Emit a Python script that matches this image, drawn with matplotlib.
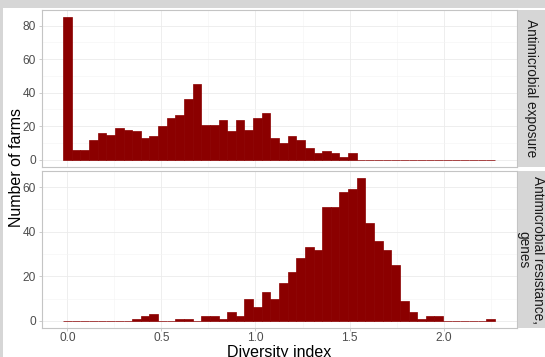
import numpy as np
import matplotlib
matplotlib.use('Agg')
import matplotlib.pyplot as plt
from matplotlib.patches import Rectangle

plt.rcParams['font.family'] = ['Liberation Sans', 'DejaVu Sans']

# histogram data (50 bins over the diversity index range)
x_min = 0.0
x_max = 2.25
n_bins = 50

exposure_counts = [85, 6, 6, 12, 16, 15, 19, 18, 17, 13,
                   14, 20, 25, 27, 36, 45, 21, 21, 24, 17,
                   24, 18, 25, 28, 13, 10, 14, 12, 7, 4,
                   5, 4, 2, 4, 0, 0, 0, 0, 0, 0,
                   0, 0, 0, 0, 0, 0, 0, 0, 0, 0]
genes_counts = [0, 0, 0, 0, 0, 0, 0, 0, 1, 2,
                3, 0, 0, 1, 1, 0, 2, 2, 1, 4,
                2, 10, 6, 13, 10, 17, 22, 28, 33, 32,
                51, 51, 58, 59, 64, 44, 36, 32, 25, 9,
                4, 1, 2, 2, 0, 0, 0, 0, 0, 1]

facet_labels = ['Antimicrobial exposure', 'Antimicrobial resistance,\ngenes']
y_ticks = [[0, 20, 40, 60, 80], [0, 20, 40, 60]]
x_ticks = [0.0, 0.5, 1.0, 1.5, 2.0]
x_tick_labels = ['0.0', '0.5', '1.0', '1.5', '2.0']

# ggplot style bins: centred on the data min
bw = (x_max - x_min) / (n_bins - 1)
centers = x_min + bw * np.arange(n_bins)
lo, hi = centers[0] - bw / 2, centers[-1] + bw / 2
pad = 0.05 * (hi - lo)

W, H = 545, 357
fig = plt.figure(figsize=(W / 100, H / 100), dpi=100)
fig.patch.set_facecolor('white')


def rect(x0, y0, x1, y1):
    return [x0 / W, 1 - y1 / H, (x1 - x0) / W, (y1 - y0) / H]


# grey frame of the screenshot
border = '#d6d6d6'
fig.patches.append(Rectangle((0, 1 - 7.5 / H), 1, 7.5 / H, transform=fig.transFigure,
                             facecolor=border, edgecolor='none', zorder=0))
fig.patches.append(Rectangle((0, 0), 3.3 / W, 1, transform=fig.transFigure,
                             facecolor=border, edgecolor='none', zorder=0))

fill = '#8B0000'
grid_major = '#ebebeb'
grid_minor = '#f4f4f4'
frame = '#c4c4c4'
tick_col = '#4d4d4d'

panels = [(10, 167), (171, 328)]
for i, counts in enumerate([exposure_counts, genes_counts]):
    y0, y1 = panels[i]
    ax = fig.add_axes(rect(41.5, y0, 516.5, y1))
    ax.bar(centers, counts, width=bw, color=fill, edgecolor=fill, linewidth=0.5, zorder=2)
    ymax = max(counts)
    ax.set_xlim(lo - pad, hi + pad)
    ax.set_ylim(-0.05 * ymax, ymax * 1.05)

    ax.set_xticks(x_ticks)
    ax.set_xticks(np.arange(0.25, 2.5, 0.5), minor=True)
    ax.set_yticks(y_ticks[i])
    ax.set_yticks(np.arange(10, ymax * 1.05, 20), minor=True)
    ax.grid(which='major', color=grid_major, linewidth=0.6)
    ax.grid(which='minor', color=grid_minor, linewidth=0.4)
    ax.set_axisbelow(True)

    for sp in ax.spines.values():
        sp.set_color(frame)
        sp.set_linewidth(0.8)
    ax.tick_params(which='minor', length=0)
    ax.tick_params(axis='y', which='major', length=2.2, width=0.6, color=frame,
                   labelsize=8.6, labelcolor=tick_col, pad=1.8)
    if i == 0:
        ax.tick_params(axis='x', which='major', length=0, labelbottom=False)
    else:
        ax.set_xticklabels(x_tick_labels)
        ax.tick_params(axis='x', which='major', length=2.2, width=0.6, color=frame,
                       labelsize=8.6, labelcolor=tick_col, pad=0.8)

    # facet strip on the right
    sax = fig.add_axes(rect(517.5, y0, 546, y1))
    sax.set_facecolor(border)
    sax.set_xticks([])
    sax.set_yticks([])
    for sp in sax.spines.values():
        sp.set_visible(False)
    sax.text((530.5 - 517.5) / 28.5, 0.5, facet_labels[i], transform=sax.transAxes,
             rotation=-90, ha='center', va='center', fontsize=9.8, color='#1a1a1a',
             linespacing=1.0, multialignment='center')

fig.text(17 / W, 1 - 167.5 / H, 'Number of farms', rotation=90, ha='center', va='center',
         fontsize=11.5, color='black')
fig.text(279 / W, -0.5 / H, 'Diversity index', ha='center', va='baseline',
         fontsize=11.5, color='black')

fig.savefig('out.png', dpi=100)
